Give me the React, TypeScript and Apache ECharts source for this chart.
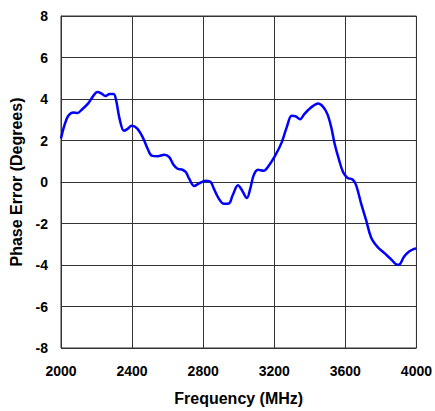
import React, { useEffect, useRef } from "react";
import * as echarts from "echarts";

const frequencyMHz = [
  2000, 2020, 2041, 2069, 2093, 2115, 2153, 2181, 2205, 2227, 2250, 2274, 2296, 2311, 2330,
  2354, 2373, 2398, 2428, 2460, 2488, 2510, 2544, 2581, 2609, 2633, 2656, 2683, 2702, 2721,
  2749, 2777, 2814, 2842, 2860, 2888, 2916, 2944, 2966, 2996, 3015, 3046, 3065, 3084, 3108,
  3140, 3168, 3205, 3242, 3270, 3298, 3321, 3345, 3369, 3391, 3419, 3447, 3475, 3499, 3521,
  3540, 3563, 3587, 3611, 3642, 3661, 3689, 3717, 3745, 3782, 3820, 3857, 3894, 3909, 3931,
  3959, 3987, 4000,
];

const phaseErrorDeg = [
  2.1, 2.75, 3.19, 3.35, 3.33, 3.47, 3.79, 4.14, 4.34, 4.27, 4.14, 4.24, 4.24, 3.9, 3.03,
  2.47, 2.55, 2.71, 2.58, 2.15, 1.59, 1.27, 1.24, 1.31, 1.2, 0.83, 0.64, 0.59, 0.48, 0.16,
  -0.19, -0.07, 0.06, 0, -0.32, -0.8, -1.05, -1.04, -0.64, -0.16, -0.35, -0.77, -0.32, 0.32, 0.59,
  0.54, 0.77, 1.27, 1.91, 2.63, 3.19, 3.16, 3.03, 3.27, 3.47, 3.67, 3.78, 3.62, 3.27, 2.63,
  1.83, 1.11, 0.48, 0.21, 0.11, -0.16, -1.04, -1.84, -2.67, -3.14, -3.43, -3.72, -3.99, -3.94, -3.59,
  -3.35, -3.22, -3.2,
];

const xTitle = "Frequency (MHz)";
const yTitle = "Phase Error (Degrees)";

const FONT = "'Liberation Sans', Arial, Helvetica, sans-serif";

export default function App() {
  const ref = useRef<HTMLDivElement>(null);

  useEffect(() => {
    document.body.style.margin = "0";
    document.body.style.overflow = "hidden";
    if (!ref.current) return;
    const chart = echarts.init(ref.current, null, { renderer: "svg" });
    const lineColor = "#333";
    chart.setOption({
      animation: false,
      backgroundColor: "#fff",
      grid: {
        left: 61,
        top: 16,
        right: 16,
        bottom: 60,
        show: true,
        borderColor: lineColor,
        borderWidth: 1,
        containLabel: false,
      },
      xAxis: {
        type: "value",
        min: 2000,
        max: 4000,
        interval: 400,
        name: xTitle,
        nameLocation: "middle",
        nameGap: 42,
        nameTextStyle: { fontFamily: FONT, fontWeight: "bold", fontSize: 16, color: "#000" },
        axisLine: { show: true, lineStyle: { color: lineColor, width: 1 } },
        axisTick: { show: false },
        axisLabel: {
          margin: 16,
          fontFamily: FONT,
          fontWeight: "bold",
          fontSize: 14,
          color: "#000",
          formatter: (v: number) => String(v),
        },
        splitLine: { show: true, lineStyle: { color: lineColor, width: 1 } },
      },
      yAxis: {
        type: "value",
        min: -8,
        max: 8,
        interval: 2,
        name: yTitle,
        nameLocation: "middle",
        nameGap: 35,
        nameTextStyle: { fontFamily: FONT, fontWeight: "bold", fontSize: 16, color: "#000" },
        axisLine: { show: true, lineStyle: { color: lineColor, width: 1 } },
        axisTick: { show: false },
        axisLabel: { margin: 13, fontFamily: FONT, fontWeight: "bold", fontSize: 14, color: "#000" },
        splitLine: { show: true, lineStyle: { color: lineColor, width: 1 } },
      },
      series: [
        {
          type: "line",
          data: frequencyMHz.map((f, i) => [f, phaseErrorDeg[i]]),
          smooth: 0.35,
          showSymbol: false,
          symbol: "none",
          lineStyle: { color: "#0000ff", width: 2.5 },
        },
      ],
    });
    return () => chart.dispose();
  }, []);

  return (
    <div
      ref={ref}
      style={{ position: "absolute", left: 0, top: 0, width: 435, height: 411 }}
    />
  );
}
